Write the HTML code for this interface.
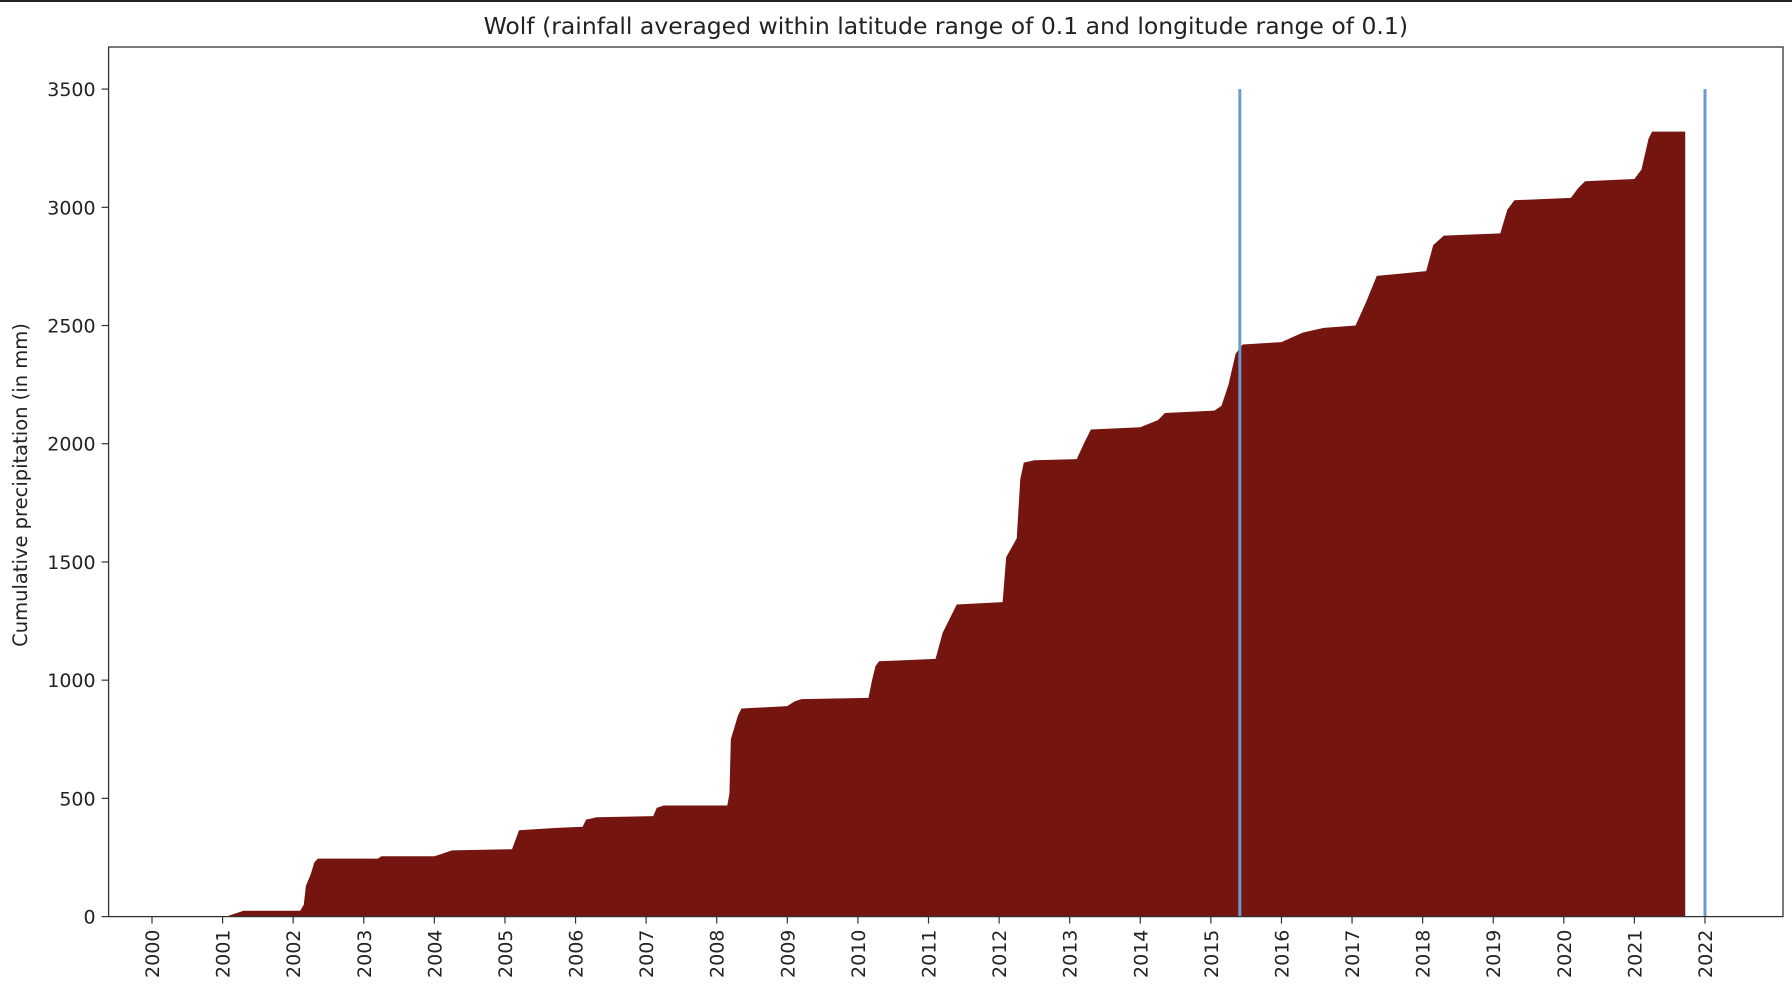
<!DOCTYPE html>
<html><head><meta charset="utf-8"><style>
html,body{margin:0;padding:0;background:#fff;}
svg{display:block;font-family:"DejaVu Sans","Liberation Sans",sans-serif;}
</style></head><body>
<div style="position:absolute;left:0;top:0;width:1792px;height:2px;background:#222"></div>
<svg id="chart" width="1792" height="994"></svg>
<script>
const years = [2000,2001,2002,2003,2004,2005,2006,2007,2008,2009,2010,2011,2012,2013,2014,2015,2016,2017,2018,2019,2020,2021,2022];
const yTicks = [0,500,1000,1500,2000,2500,3000,3500];
const dates = [2001.05,2001.1,2001.2,2001.3,2002.1,2002.15,2002.18,2002.25,2002.3,2002.35,2003.2,2003.25,2004.0,2004.1,2004.25,2005.1,2005.2,2005.7,2006.1,2006.15,2006.3,2007.1,2007.15,2007.25,2008.15,2008.18,2008.2,2008.3,2008.35,2009.0,2009.1,2009.2,2010.15,2010.2,2010.25,2010.3,2011.1,2011.2,2011.35,2011.4,2012.05,2012.1,2012.25,2012.3,2012.35,2012.5,2013.1,2013.2,2013.3,2014.0,2014.25,2014.35,2015.05,2015.15,2015.25,2015.35,2015.45,2016.0,2016.3,2016.6,2017.05,2017.2,2017.35,2018.05,2018.15,2018.3,2019.1,2019.2,2019.3,2020.1,2020.2,2020.3,2021.0,2021.1,2021.2,2021.25,2021.72];
const cumRain = [0,5,15,25,25,50,130,180,230,245,245,255,255,265,280,285,365,375,380,410,420,425,460,470,470,520,750,850,880,890,910,920,925,1000,1060,1080,1090,1200,1290,1320,1330,1520,1600,1850,1920,1930,1935,2000,2060,2070,2100,2130,2140,2160,2250,2380,2420,2430,2470,2490,2500,2600,2710,2730,2840,2880,2890,2990,3030,3040,3080,3110,3120,3160,3290,3320,3320];
const markers = [2015.41, 2022.0];

const L=108.6,R=1783,T=47,B=916.6;
const xs=v=>152+(v-2000)*(1705-152)/22;
const ys=v=>B-(v)*(B-89.1)/3500;
const svg=document.getElementById('chart');
const NS='http://www.w3.org/2000/svg';
function mk(t,a){const e=document.createElementNS(NS,t);for(const k in a)e.setAttribute(k,a[k]);svg.appendChild(e);return e;}

let d='M'+xs(dates[0])+','+ys(0);
for(let i=0;i<dates.length;i++){d+=' L'+xs(dates[i])+','+ys(cumRain[i]);}
d+=' L'+xs(dates[dates.length-1])+','+ys(0)+' Z';
const area=mk('path',{d:d,fill:'#741510'});



markers.forEach(m=>{
 const l=mk('line',{x1:xs(m),x2:xs(m),y1:ys(3500),y2:ys(0),stroke:'#6a9bcf','stroke-width':3});
 
 
});

const frame=mk('rect',{x:L,y:T,width:R-L,height:B-T,fill:'none',stroke:'#333','stroke-width':1.3});



yTicks.forEach(v=>{
 mk('line',{x1:L-7,x2:L,y1:ys(v),y2:ys(v),stroke:'#333','stroke-width':1.2});
 const t=mk('text',{x:L-13,y:ys(v)+7,'text-anchor':'end','font-size':19,fill:'#222'});
 t.textContent=v;
 
 
});
years.forEach(v=>{
 mk('line',{x1:xs(v),x2:xs(v),y1:B,y2:B+7,stroke:'#333','stroke-width':1.2});
 const t=mk('text',{x:0,y:0,'text-anchor':'end','font-size':19,fill:'#222',transform:'translate('+(xs(v)+7)+','+(B+13)+') rotate(-90)'});
 t.textContent=v;
 
 
});

const title=mk('text',{x:(L+R)/2,y:34,'text-anchor':'middle','font-size':23.5,fill:'#222'});
title.textContent='Wolf (rainfall averaged within latitude range of 0.1 and longitude range of 0.1)';



const yl=mk('text',{x:0,y:0,'text-anchor':'middle','font-size':19.5,fill:'#222',transform:'translate(27,485) rotate(-90)'});
yl.textContent='Cumulative precipitation (in mm)';


</script>
</body></html>
